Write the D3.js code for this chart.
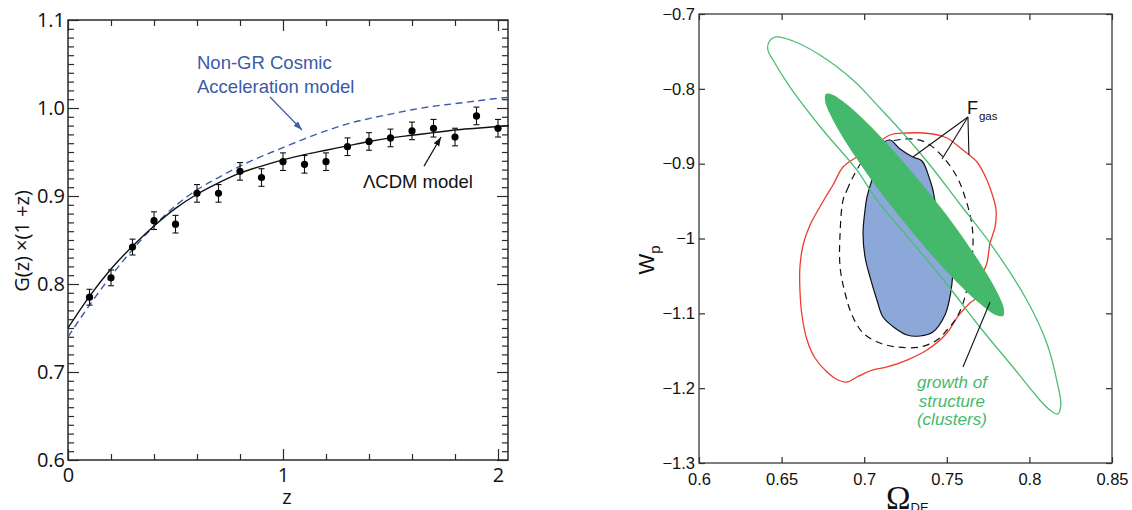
<!DOCTYPE html>
<html>
<head>
<meta charset="utf-8">
<script src="https://cdn.jsdelivr.net/npm/d3@7"></script>
<style>
  body { margin: 0; background: #fff; }
  svg { display: block; }
</style>
</head>
<body>
<svg id="chart" width="1132" height="510"></svg>
<script>
// ---------- Growth panel: G(z)(1+z) ----------
const zModel = [0, 0.1, 0.2, 0.3, 0.4, 0.5, 0.6, 0.7, 0.8, 0.9, 1.0, 1.1, 1.2, 1.3, 1.4, 1.5, 1.6, 1.7, 1.8, 1.9, 2.0, 2.05];
const gLCDM  = [0.750, 0.786, 0.817, 0.843, 0.866, 0.886, 0.902, 0.915, 0.926, 0.934, 0.941, 0.947, 0.952, 0.957, 0.962, 0.966, 0.969, 0.972, 0.975, 0.977, 0.979, 0.980];
const gNonGR = [0.740, 0.776, 0.809, 0.839, 0.866, 0.889, 0.907, 0.921, 0.934, 0.945, 0.955, 0.965, 0.974, 0.982, 0.988, 0.993, 0.998, 1.002, 1.005, 1.008, 1.011, 1.012];

const zData = [0.1, 0.2, 0.3, 0.4, 0.5, 0.6, 0.7, 0.8, 0.9, 1.0, 1.1, 1.2, 1.3, 1.4, 1.5, 1.6, 1.7, 1.8, 1.9, 2.0];
const gData = [0.785, 0.807, 0.842, 0.872, 0.868, 0.903, 0.903, 0.928, 0.921, 0.939, 0.936, 0.939, 0.956, 0.962, 0.966, 0.974, 0.977, 0.967, 0.991, 0.977];
const gErr  = [0.009, 0.009, 0.009, 0.010, 0.010, 0.010, 0.010, 0.010, 0.010, 0.010, 0.010, 0.010, 0.010, 0.010, 0.010, 0.010, 0.010, 0.010, 0.010, 0.010];

const growthYMajor = [0.6, 0.7, 0.8, 0.9, 1.0, 1.1];
const growthYLabels = ["0.6", "0.7", "0.8", "0.9", "1.0", "1.1"];
const growthXMajor = [0, 1, 2];
const growthXLabels = ["0", "1", "2"];

// ---------- Constraint panel: (Omega_DE, w_p) contours ----------
const clusterOuter = [[0.6424,-0.7374],[0.6466,-0.7307],[0.6569,-0.7361],[0.6732,-0.7548],[0.6932,-0.7882],[0.7095,-0.8256],[0.7234,-0.8590],[0.7398,-0.9018],[0.7579,-0.9539],[0.7779,-1.0114],[0.7984,-1.0822],[0.8105,-1.1396],[0.8172,-1.1958],[0.8190,-1.2225],[0.8172,-1.2345],[0.8124,-1.2292],[0.8063,-1.2158],[0.7900,-1.1717],[0.7700,-1.1183],[0.7500,-1.0608],[0.7295,-1.0060],[0.7077,-0.9486],[0.6956,-0.9085],[0.6750,-0.8550],[0.6551,-0.7976],[0.6448,-0.7615],[0.6417,-0.7481]];
const clusterInner = [[0.7841,-1.1034],[0.7800,-1.1026],[0.7725,-1.0915],[0.7620,-1.0712],[0.7495,-1.0432],[0.7357,-1.0090],[0.7215,-0.9711],[0.7078,-0.9323],[0.6959,-0.8948],[0.6862,-0.8617],[0.6795,-0.8347],[0.6763,-0.8161],[0.6768,-0.8070],[0.6809,-0.8078],[0.6884,-0.8189],[0.6989,-0.8392],[0.7114,-0.8673],[0.7252,-0.9015],[0.7394,-0.9393],[0.7531,-0.9782],[0.7650,-1.0156],[0.7747,-1.0488],[0.7814,-1.0758],[0.7846,-1.0943]];
const fgasInner = [[0.7096,-0.8764],[0.7156,-0.8684],[0.7217,-0.8804],[0.7295,-0.8911],[0.7350,-0.8964],[0.7398,-0.9218],[0.7416,-0.9352],[0.7435,-0.9552],[0.7507,-0.9886],[0.7538,-1.0220],[0.7538,-1.0421],[0.7519,-1.0782],[0.7489,-1.1022],[0.7416,-1.1249],[0.7338,-1.1303],[0.7259,-1.1290],[0.7186,-1.1196],[0.7114,-1.1049],[0.7077,-1.0822],[0.7035,-1.0514],[0.7005,-1.0247],[0.6993,-0.9927],[0.7005,-0.9619],[0.7017,-0.9445],[0.7047,-0.9218],[0.7071,-0.9085],[0.7071,-0.8924]];
const fgasOuter = [[0.6872,-0.9486],[0.6896,-0.9352],[0.6932,-0.9178],[0.6993,-0.8951],[0.7077,-0.8751],[0.7199,-0.8684],[0.7295,-0.8670],[0.7380,-0.8724],[0.7477,-0.8911],[0.7562,-0.9178],[0.7610,-0.9445],[0.7647,-0.9753],[0.7659,-1.0020],[0.7647,-1.0368],[0.7610,-1.0782],[0.7562,-1.1049],[0.7501,-1.1223],[0.7441,-1.1356],[0.7338,-1.1450],[0.7199,-1.1450],[0.7096,-1.1397],[0.6993,-1.1263],[0.6926,-1.1022],[0.6884,-1.0728],[0.6854,-1.0381],[0.6854,-0.9927]];
const combinedRed = [[0.6630,-1.0087],[0.6672,-0.9820],[0.6714,-0.9646],[0.6763,-0.9459],[0.6811,-0.9285],[0.6872,-0.9045],[0.6956,-0.8911],[0.7053,-0.8777],[0.7156,-0.8617],[0.7259,-0.8590],[0.7356,-0.8590],[0.7447,-0.8617],[0.7501,-0.8657],[0.7598,-0.8817],[0.7683,-0.8978],[0.7743,-0.9218],[0.7780,-0.9445],[0.7798,-0.9619],[0.7792,-0.9846],[0.7762,-1.0060],[0.7743,-1.0327],[0.7719,-1.0461],[0.7683,-1.0782],[0.7640,-1.0862],[0.7568,-1.1036],[0.7501,-1.1263],[0.7380,-1.1490],[0.7259,-1.1624],[0.7138,-1.1717],[0.7053,-1.1757],[0.6956,-1.1851],[0.6896,-1.1918],[0.6841,-1.1891],[0.6775,-1.1784],[0.6702,-1.1597],[0.6654,-1.1356],[0.6623,-1.1022],[0.6611,-1.0688],[0.6611,-1.0381]];

const omegaTicks = [0.6, 0.65, 0.7, 0.75, 0.8, 0.85];
const omegaLabels = ["0.6", "0.65", "0.7", "0.75", "0.8", "0.85"];
const wTicks = [-0.7, -0.8, -0.9, -1.0, -1.1, -1.2, -1.3];
const wLabels = ["\u22120.7", "\u22120.8", "\u22120.9", "\u22121", "\u22121.1", "\u22121.2", "\u22121.3"];

// annotation anchors (data units)
const fgasOrigin = [0.7628, -0.8376];
const fgasTargets = [[0.7295, -0.8911], [0.7471, -0.8938], [0.7634, -0.8884]];
const growthPointer = [[0.7762, -1.0849], [0.7598, -1.1717]];

// ---------- colours ----------
const BLUE_LINE = "#3d5cab";
const BLUE_TEXT = "#3b5aa8";
const GREEN = "#45b96b";
const GREEN_LINE = "#4cbd71";
const BLUE_FILL = "#8ba8d8";
const RED = "#ee3b2f";
const FRAME = "#2a2a2a";

const svg = d3.select("#chart");
const defs = svg.append("defs");
function arrowMarker(id, color) {
  defs.append("marker")
    .attr("id", id)
    .attr("viewBox", "0 0 10 10")
    .attr("refX", 10).attr("refY", 5)
    .attr("markerWidth", 9).attr("markerHeight", 9)
    .attr("markerUnits", "userSpaceOnUse")
    .attr("orient", "auto")
    .append("path")
    .attr("d", "M0,1.5L10,5L0,8.5Z")
    .attr("fill", color);
}
arrowMarker("arrBlue", BLUE_LINE);
arrowMarker("arrBlack", "#111");

// ================= Left panel =================
const L = { left: 68, right: 508, top: 20, bottom: 460 };
const xG = d3.scaleLinear().domain([0, 2.0465]).range([L.left, L.right]);
const yG = d3.scaleLinear().domain([0.6, 1.1]).range([L.bottom, L.top]);

const gLeft = svg.append("g");

// minor / major ticks via d3 axes (inward)
const yMinor = d3.range(60, 111).map(v => v / 100).filter(v => Math.round(v * 100) % 10 !== 0);
const xMinor = [0.2, 0.4, 0.6, 0.8, 1.2, 1.4, 1.6, 1.8];

function styleAxis(sel) {
  sel.select(".domain").remove();
  sel.selectAll(".tick line").attr("stroke", FRAME).attr("stroke-width", 1.2);
}

gLeft.append("g").attr("transform", `translate(${L.left},0)`)
  .call(d3.axisLeft(yG).tickValues(yMinor).tickSize(-6).tickFormat(""))
  .call(styleAxis);
gLeft.append("g").attr("transform", `translate(${L.right},0)`)
  .call(d3.axisRight(yG).tickValues(yMinor).tickSize(-6).tickFormat(""))
  .call(styleAxis);
gLeft.append("g").attr("transform", `translate(${L.right},0)`)
  .call(d3.axisRight(yG).tickValues(growthYMajor).tickSize(-11).tickFormat(""))
  .call(styleAxis);
gLeft.append("g").attr("transform", `translate(${L.left},0)`)
  .call(d3.axisLeft(yG).tickValues(growthYMajor).tickSize(-11).tickPadding(3)
    .tickFormat((d, i) => growthYLabels[i]))
  .call(styleAxis)
  .call(s => s.selectAll("text").attr("font-family", "'Open Sans', sans-serif")
    .attr("font-size", 20).attr("fill", "#111"));

gLeft.append("g").attr("transform", `translate(0,${L.bottom})`)
  .call(d3.axisBottom(xG).tickValues(xMinor).tickSize(-6).tickFormat(""))
  .call(styleAxis);
gLeft.append("g").attr("transform", `translate(0,${L.top})`)
  .call(d3.axisTop(xG).tickValues(xMinor).tickSize(-6).tickFormat(""))
  .call(styleAxis);
gLeft.append("g").attr("transform", `translate(0,${L.top})`)
  .call(d3.axisTop(xG).tickValues(growthXMajor).tickSize(-11).tickFormat(""))
  .call(styleAxis);
gLeft.append("g").attr("transform", `translate(0,${L.bottom})`)
  .call(d3.axisBottom(xG).tickValues(growthXMajor).tickSize(-11).tickPadding(8)
    .tickFormat((d, i) => growthXLabels[i]))
  .call(styleAxis)
  .call(s => s.selectAll("text").attr("font-family", "'Open Sans', sans-serif")
    .attr("font-size", 20).attr("fill", "#111"));

// frame
gLeft.append("rect")
  .attr("x", L.left).attr("y", L.top)
  .attr("width", L.right - L.left).attr("height", L.bottom - L.top)
  .attr("fill", "none").attr("stroke", FRAME).attr("stroke-width", 1.5);

// model curves
const growthLine = d3.line().x((d, i) => xG(zModel[i])).y(d => yG(d)).curve(d3.curveMonotoneX);
gLeft.append("path").attr("d", growthLine(gNonGR))
  .attr("fill", "none").attr("stroke", BLUE_LINE).attr("stroke-width", 1.4)
  .attr("stroke-dasharray", "7,4.5");
gLeft.append("path").attr("d", growthLine(gLCDM))
  .attr("fill", "none").attr("stroke", "#111").attr("stroke-width", 1.4);

// data points with error bars
const pts = gLeft.append("g").selectAll("g").data(zData).join("g");
pts.append("line")
  .attr("x1", (d) => xG(d)).attr("x2", (d) => xG(d))
  .attr("y1", (d, i) => yG(gData[i] - gErr[i])).attr("y2", (d, i) => yG(gData[i] + gErr[i]))
  .attr("stroke", "#111").attr("stroke-width", 1.1);
[-1, 1].forEach(s => {
  pts.append("line")
    .attr("x1", d => xG(d) - 3).attr("x2", d => xG(d) + 3)
    .attr("y1", (d, i) => yG(gData[i] + s * gErr[i])).attr("y2", (d, i) => yG(gData[i] + s * gErr[i]))
    .attr("stroke", "#111").attr("stroke-width", 1.1);
});
pts.append("circle")
  .attr("cx", d => xG(d)).attr("cy", (d, i) => yG(gData[i]))
  .attr("r", 3.6).attr("fill", "#000");

// annotations
const nonGRText = gLeft.append("text")
  .attr("font-family", "'Liberation Sans', Arial, sans-serif")
  .attr("font-size", 18.5).attr("fill", BLUE_TEXT);
nonGRText.append("tspan").attr("x", xG(0.6)).attr("y", yG(1.0443)).text("Non-GR Cosmic");
nonGRText.append("tspan").attr("x", xG(0.6)).attr("y", yG(1.017)).text("Acceleration model");
gLeft.append("line")
  .attr("x1", xG(0.9395)).attr("y1", yG(1.0125))
  .attr("x2", xG(1.0884)).attr("y2", yG(0.975))
  .attr("stroke", BLUE_LINE).attr("stroke-width", 1.2)
  .attr("marker-end", "url(#arrBlue)");

gLeft.append("text")
  .attr("x", xG(1.372)).attr("y", yG(0.909))
  .attr("font-family", "'Liberation Sans', Arial, sans-serif")
  .attr("font-size", 18.5).attr("fill", "#111")
  .text("\u039BCDM model");
gLeft.append("line")
  .attr("x1", xG(1.656)).attr("y1", yG(0.934))
  .attr("x2", xG(1.735)).attr("y2", yG(0.967))
  .attr("stroke", "#111").attr("stroke-width", 1.2)
  .attr("marker-end", "url(#arrBlack)");

// axis titles
gLeft.append("text")
  .attr("transform", "translate(29,241) rotate(-90)")
  .attr("text-anchor", "middle")
  .attr("font-family", "'Open Sans', sans-serif")
  .attr("font-size", 20).attr("fill", "#111")
  .text("G(z) \u00D7(1 +z)");
gLeft.append("text")
  .attr("x", 287).attr("y", 504)
  .attr("text-anchor", "middle")
  .attr("font-family", "'Open Sans', sans-serif")
  .attr("font-size", 20).attr("fill", "#111")
  .text("z");

// ================= Right panel =================
const R = { left: 699, right: 1112, top: 14, bottom: 463 };
const xO = d3.scaleLinear().domain([0.6, 0.85]).range([R.left, R.right]);
const yW = d3.scaleLinear().domain([-1.3, -0.7]).range([R.bottom, R.top]);
const gRight = svg.append("g");

const closed = d3.line().x(d => xO(d[0])).y(d => yW(d[1])).curve(d3.curveCatmullRomClosed.alpha(0.5));

gRight.append("path").attr("d", closed(combinedRed))
  .attr("fill", "none").attr("stroke", RED).attr("stroke-width", 1.3);
gRight.append("path").attr("d", closed(fgasOuter))
  .attr("fill", "none").attr("stroke", "#111").attr("stroke-width", 1.2)
  .attr("stroke-dasharray", "7,5");
gRight.append("path").attr("d", closed(fgasInner))
  .attr("fill", BLUE_FILL).attr("stroke", "#111").attr("stroke-width", 1.2);
gRight.append("path").attr("d", closed(clusterOuter))
  .attr("fill", "none").attr("stroke", GREEN_LINE).attr("stroke-width", 1.3);
gRight.append("path").attr("d", closed(clusterInner))
  .attr("fill", GREEN).attr("stroke", "none");

// ticks (inward, all four sides)
const tickLen = 6;
gRight.append("g").attr("transform", `translate(${R.left},0)`)
  .call(d3.axisLeft(yW).tickValues(wTicks).tickSize(-tickLen).tickPadding(4)
    .tickFormat((d, i) => wLabels[i]))
  .call(styleAxis)
  .call(s => s.selectAll("text").attr("font-family", "'Liberation Sans', Arial, sans-serif")
    .attr("font-size", 16.5).attr("fill", "#111"));
gRight.append("g").attr("transform", `translate(${R.right},0)`)
  .call(d3.axisRight(yW).tickValues(wTicks).tickSize(-tickLen).tickFormat(""))
  .call(styleAxis);
gRight.append("g").attr("transform", `translate(0,${R.bottom})`)
  .call(d3.axisBottom(xO).tickValues(omegaTicks).tickSize(-tickLen).tickPadding(10)
    .tickFormat((d, i) => omegaLabels[i]))
  .call(styleAxis)
  .call(s => s.selectAll("text").attr("font-family", "'Liberation Sans', Arial, sans-serif")
    .attr("font-size", 16.5).attr("fill", "#111"));
gRight.append("g").attr("transform", `translate(0,${R.top})`)
  .call(d3.axisTop(xO).tickValues(omegaTicks).tickSize(-tickLen).tickFormat(""))
  .call(styleAxis);

gRight.append("rect")
  .attr("x", R.left).attr("y", R.top)
  .attr("width", R.right - R.left).attr("height", R.bottom - R.top)
  .attr("fill", "none").attr("stroke", "#3a3a3a").attr("stroke-width", 1.3);

// F_gas label and pointers
fgasTargets.forEach(t => {
  gRight.append("line")
    .attr("x1", xO(fgasOrigin[0])).attr("y1", yW(fgasOrigin[1]))
    .attr("x2", xO(t[0])).attr("y2", yW(t[1]))
    .attr("stroke", "#111").attr("stroke-width", 1.1);
});
const fg = gRight.append("text")
  .attr("x", xO(0.7622)).attr("y", yW(-0.8336))
  .attr("font-family", "'Liberation Sans', Arial, sans-serif")
  .attr("font-size", 18).attr("fill", "#111");
fg.append("tspan").text("F");
fg.append("tspan").attr("dy", 6).attr("dx", 1).attr("font-size", 11.5).text("gas");

// growth-of-structure label
gRight.append("line")
  .attr("x1", xO(growthPointer[0][0])).attr("y1", yW(growthPointer[0][1]))
  .attr("x2", xO(growthPointer[1][0])).attr("y2", yW(growthPointer[1][1]))
  .attr("stroke", "#111").attr("stroke-width", 1.1);
const gsText = gRight.append("text")
  .attr("text-anchor", "middle")
  .attr("font-family", "'Liberation Sans', Arial, sans-serif")
  .attr("font-style", "italic")
  .attr("font-size", 17).attr("fill", GREEN);
[["growth of", -1.1998], ["structure", -1.2252], ["(clusters)", -1.2492]].forEach(([t, w]) => {
  gsText.append("tspan").attr("x", xO(0.7531)).attr("y", yW(w)).text(t);
});

// axis titles
const wLab = gRight.append("text")
  .attr("transform", "translate(654,260) rotate(-90)")
  .attr("text-anchor", "middle")
  .attr("font-family", "'Liberation Sans', Arial, sans-serif")
  .attr("font-size", 22).attr("fill", "#111");
wLab.append("tspan").text("W");
wLab.append("tspan").attr("dy", 6).attr("font-size", 15).text("p");

const oLab = gRight.append("text")
  .attr("x", 886).attr("y", 509)
  .attr("fill", "#111");
oLab.append("tspan").attr("font-family", "'Liberation Serif', 'Times New Roman', serif")
  .attr("font-size", 33).text("\u03A9");
oLab.append("tspan").attr("font-family", "'Liberation Sans', Arial, sans-serif")
  .attr("font-size", 13).attr("dy", 3).text("DE");
</script>
</body>
</html>
